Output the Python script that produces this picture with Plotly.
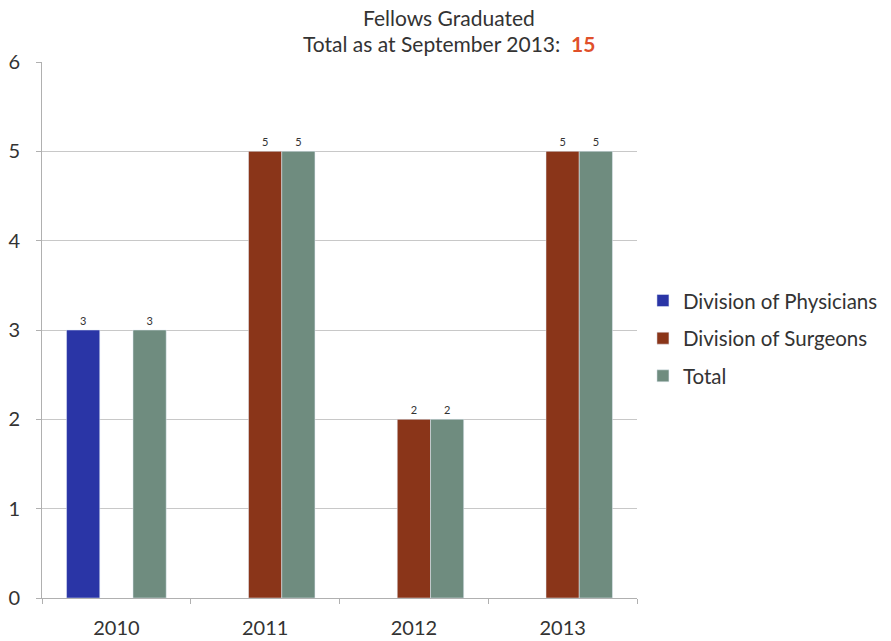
import plotly.graph_objects as go

years = ["2010", "2011", "2012", "2013"]
physicians = [3, None, None, None]
surgeons = [None, 5, 2, 5]
total = [3, 5, 2, 5]

title_line1 = "Fellows Graduated"
title_line2 = "Total as at September 2013:  <span style='color:#e0502a'><b>15</b></span>"

series = [
    ("Division of Physicians", physicians, "#2a35a6"),
    ("Division of Surgeons", surgeons, "#8a3519"),
    ("Total", total, "#6f8c7f"),
]

fig = go.Figure()
for i, (name, vals, color) in enumerate(series):
    fig.add_trace(go.Bar(
        x=years, y=vals, name=name, marker_color=color, legendgroup=f"g{i}",
        text=[("" if v is None else str(v)) for v in vals],
        textposition="outside", textfont=dict(size=11, color="#333333", family="Lato"),
        cliponaxis=False,
    ))

fig.add_annotation(text=title_line1, xref="paper", yref="paper", x=0.684, y=1.0,
                   xanchor="center", yanchor="middle", yshift=45, showarrow=False,
                   font=dict(size=21, color="#333333", family="Lato"))
fig.add_annotation(text=title_line2, xref="paper", yref="paper", x=0.684, y=1.0,
                   xanchor="center", yanchor="middle", yshift=19, showarrow=False,
                   font=dict(size=21, color="#333333", family="Lato"))

fig.update_layout(
    width=891, height=641,
    margin=dict(l=42, r=254, t=62, b=43, autoexpand=False),
    paper_bgcolor="white", plot_bgcolor="white",
    font=dict(family="Lato", color="#333333"),
    barmode="group", bargap=0.33, bargroupgap=0,
    legend=dict(
        x=1.01, y=0.592, xanchor="left", yanchor="top",
        font=dict(size=20.5, color="#333333", family="Lato"),
        tracegroupgap=8, itemwidth=30,
    ),
    xaxis=dict(
        showline=True, linecolor="#b0b0b0", ticks="outside", tickson="boundaries",
        ticklen=5, tickcolor="#b0b0b0", tickfont=dict(size=20, color="#333333"),
        ticklabelstandoff=12, automargin=False,
    ),
    yaxis=dict(
        range=[0, 6], dtick=1, showgrid=True, gridcolor="#c8c8c8",
        showline=True, linecolor="#b0b0b0", ticks="outside", ticklen=5,
        tickcolor="#b0b0b0", tickfont=dict(size=20, color="#333333"),
        zeroline=False, ticklabelstandoff=12, automargin=False,
    ),
)

fig.write_html("out.html")
